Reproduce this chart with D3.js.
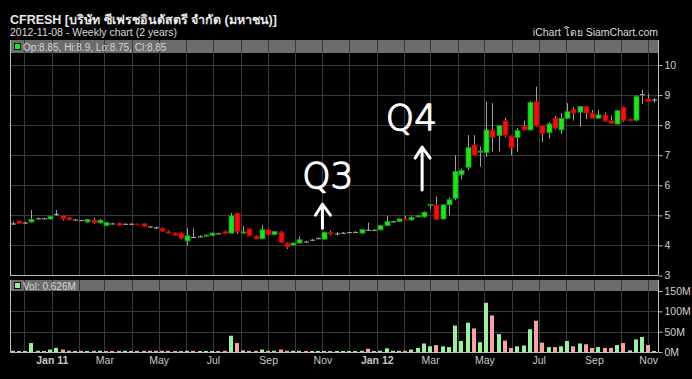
<!DOCTYPE html>
<html>
<head>
<meta charset="utf-8">
<script src="https://cdn.jsdelivr.net/npm/d3@7"></script>
<style>
  body { margin: 0; background: #000; }
  text { font-family: "Liberation Sans", "Noto Sans", sans-serif; }
</style>
</head>
<body>
<div id="chart"></div>
<script>
// weekly candles, Thursdays 2010-11-18 .. 2012-11-08
const firstWeek = "2010-11-18";
const lastWeek = "2012-11-08";

const open = [
  4.73, 4.81, 4.76, 4.78, 4.90, 4.90, 4.88, 5.05, 5.00, 4.92,
  4.86, 4.84, 4.78, 4.85, 4.75, 4.66, 4.73, 4.74, 4.72, 4.72,
  4.71, 4.72, 4.63, 4.60, 4.57, 4.46, 4.41, 4.41, 4.15, 4.28,
  4.30, 4.32, 4.34, 4.40, 4.46, 4.41, 5.07, 4.41, 4.55, 4.31,
  4.22, 4.52, 4.36, 4.44, 4.08, 4.01, 4.08, 4.13, 4.19, 4.24,
  4.21, 4.44, 4.40, 4.42, 4.44, 4.45, 4.41, 4.52, 4.52, 4.52,
  4.66, 4.80, 4.80, 4.88, 4.85, 4.95, 4.95, 5.33, 5.35, 4.88,
  5.35, 5.57, 6.35, 6.60, 7.34, 7.10, 7.09, 7.84, 7.65, 8.14,
  7.64, 7.59, 7.97, 7.84, 8.78, 7.98, 7.75, 8.23, 7.84, 8.23,
  8.53, 8.43, 8.62, 8.40, 8.23, 8.34, 8.15, 8.04, 8.59, 8.20,
  8.17, 9.03, 8.87, 8.85
];
const high = [
  4.80, 4.83, 4.78, 5.18, 4.93, 4.92, 4.98, 5.18, 5.02, 4.95,
  4.88, 4.86, 4.88, 4.92, 4.87, 4.78, 4.75, 4.76, 4.74, 4.74,
  4.73, 4.74, 4.65, 4.62, 4.60, 4.50, 4.43, 4.43, 4.57, 4.57,
  4.34, 4.36, 4.43, 4.42, 4.50, 5.08, 5.09, 4.65, 4.57, 4.33,
  4.68, 4.55, 4.48, 4.48, 4.10, 4.10, 4.30, 4.16, 4.22, 4.27,
  4.46, 4.50, 4.45, 4.45, 4.46, 4.47, 4.54, 4.76, 4.54, 4.68,
  4.98, 4.82, 4.90, 4.98, 5.00, 5.00, 5.13, 5.37, 5.62, 5.36,
  5.60, 7.00, 6.55, 7.67, 7.67, 7.29, 8.78, 8.73, 8.00, 8.25,
  7.66, 7.90, 8.15, 8.80, 9.28, 8.00, 8.10, 8.30, 8.40, 8.73,
  8.60, 8.62, 8.65, 8.50, 8.50, 8.42, 8.32, 8.50, 8.62, 8.22,
  9.00, 9.18, 9.05, 8.90
];
const low = [
  4.68, 4.72, 4.72, 4.76, 4.87, 4.88, 4.86, 4.98, 4.83, 4.83,
  4.84, 4.82, 4.76, 4.73, 4.73, 4.64, 4.70, 4.66, 4.70, 4.70,
  4.67, 4.62, 4.58, 4.55, 4.45, 4.40, 4.32, 4.20, 4.00, 4.26,
  4.27, 4.30, 4.32, 4.38, 4.38, 4.40, 4.38, 4.40, 4.30, 4.20,
  4.20, 4.33, 4.34, 4.08, 3.88, 3.99, 4.06, 4.10, 4.16, 4.21,
  4.19, 4.33, 4.33, 4.38, 4.40, 4.43, 4.39, 4.50, 4.50, 4.50,
  4.64, 4.76, 4.78, 4.86, 4.83, 4.93, 4.93, 5.20, 4.84, 4.86,
  5.00, 5.50, 6.20, 6.50, 7.00, 6.62, 6.95, 7.12, 7.12, 7.60,
  7.00, 7.12, 7.84, 7.82, 7.95, 7.43, 7.55, 7.85, 7.70, 8.20,
  8.15, 7.95, 8.20, 8.23, 8.22, 8.10, 8.04, 8.02, 8.10, 8.12,
  8.12, 8.70, 8.78, 8.75
];
const close = [
  4.73, 4.73, 4.76, 4.86, 4.90, 4.90, 4.96, 5.05, 4.89, 4.85,
  4.86, 4.84, 4.86, 4.75, 4.84, 4.76, 4.73, 4.67, 4.72, 4.72,
  4.69, 4.64, 4.63, 4.60, 4.48, 4.41, 4.34, 4.24, 4.32, 4.28,
  4.30, 4.34, 4.41, 4.40, 4.39, 4.98, 4.45, 4.45, 4.32, 4.22,
  4.52, 4.35, 4.46, 4.10, 3.95, 4.08, 4.19, 4.13, 4.19, 4.24,
  4.44, 4.38, 4.40, 4.42, 4.44, 4.45, 4.53, 4.52, 4.52, 4.66,
  4.80, 4.80, 4.88, 4.87, 4.93, 4.99, 5.10, 5.36, 4.87, 5.35,
  5.52, 6.46, 6.49, 7.25, 7.00, 7.14, 7.84, 7.59, 7.98, 7.67,
  7.25, 7.82, 7.84, 8.75, 7.97, 7.73, 8.04, 7.90, 8.23, 8.45,
  8.40, 8.62, 8.40, 8.23, 8.34, 8.14, 8.06, 8.48, 8.15, 8.15,
  8.95, 9.03, 8.78, 8.85
];
// millions of shares
const volume = [
  3, 2, 0.5, 22, 3, 0.5, 6, 10, 6, 3,
  0.5, 3, 0.5, 3, 3, 0.5, 0.5, 3, 3, 0.5,
  3, 3, 3, 3, 3, 3, 0.5, 0.5, 3, 3,
  0.3, 0.3, 1, 0.3, 3, 40, 22, 4, 3, 3,
  6, 3, 3, 6, 3, 3, 3, 0.3, 0.3, 0.3,
  0.5, 0.3, 0.3, 0.3, 0.3, 0.3, 3, 8, 0.3, 3,
  9, 3, 3, 3, 6, 10, 21, 14, 17, 14,
  12, 65, 27, 72, 58, 24, 121, 90, 44, 28,
  10, 14, 16, 56, 77, 23, 12, 12, 14, 27,
  14, 21, 19, 10, 12, 10, 10, 17, 22, 4,
  31, 37, 17, 0.626
];

const priceTicks = [3, 4, 5, 6, 7, 8, 9, 10];
const volumeTicks = [0, 50, 100, 150];
const monthTicks = ["2011-01-01", "2011-03-01", "2011-05-01", "2011-07-01", "2011-09-01", "2011-11-01",
                    "2012-01-01", "2012-03-01", "2012-05-01", "2012-07-01", "2012-09-01", "2012-11-01"];

const title = "CFRESH [บริษัท ซีเฟรชอินดัสตรี จำกัด (มหาชน)]";
const subtitle = "2012-11-08 - Weekly chart (2 years)";
const credit = "iChart โดย SiamChart.com";

const notes = [
  { text: "Q3", date: "2011-11-07", price: 5.91, arrowDate: "2011-11-01", from: 4.57, to: 5.37 },
  { text: "Q4", date: "2012-02-09", price: 7.84, arrowDate: "2012-02-21", from: 5.84, to: 7.27 }
];

const W = 692, H = 379;
const left = 10, right = 658;
const priceTop = 40, priceBottom = 275.5;
const volTop = 280, volBottom = 352;

const parse = d3.timeParse("%Y-%m-%d");
const weeks = d3.timeThursday.range(parse(firstWeek), d3.timeDay.offset(parse(lastWeek), 1));
const candles = weeks.map((d, i) => ({
  date: d, o: open[i], h: high[i], l: low[i], c: close[i], v: volume[i],
  prev: i ? close[i - 1] : open[i]
}));

const svg = d3.select("#chart").append("svg")
  .attr("width", W).attr("height", H)
  .style("display", "block")
  .style("background", "#000");

const x = d3.scaleTime()
  .domain([parse("2010-11-15"), parse("2012-11-12")])
  .range([left, right]);
const y = d3.scaleLinear().domain([3, 10]).range([priceBottom, 65]);
const yv = d3.scaleLinear().domain([0, 150]).range([volBottom, 291]);

// header texts
svg.append("text").attr("x", 10).attr("y", 24)
  .style("font-size", "12.5px").style("font-weight", "bold").attr("fill", "#e8e8e8")
  .text(title);
svg.append("text").attr("x", 10).attr("y", 35.5)
  .style("font-size", "10.5px").attr("fill", "#dcdcdc")
  .text(subtitle);
svg.append("text").attr("x", right).attr("y", 35.5).attr("text-anchor", "end")
  .style("font-size", "10.5px").attr("fill", "#dcdcdc")
  .text(credit);

// panel header bars
svg.append("rect").attr("x", left).attr("y", priceTop).attr("width", right - left).attr("height", 13)
  .attr("fill", "#6c6c6c");
svg.append("rect").attr("x", left).attr("y", volTop).attr("width", right - left).attr("height", 11)
  .attr("fill", "#6c6c6c");

// grids
const months = d3.timeMonth.range(x.domain()[0], x.domain()[1]);
const grid = svg.append("g");
grid.selectAll("line.v").data(months).join("line")
  .attr("x1", d => Math.round(x(d)) + 0.5).attr("x2", d => Math.round(x(d)) + 0.5)
  .attr("y1", priceTop).attr("y2", priceBottom)
  .attr("stroke", "#3a3a3a");
grid.selectAll("line.vv").data(months).join("line")
  .attr("x1", d => Math.round(x(d)) + 0.5).attr("x2", d => Math.round(x(d)) + 0.5)
  .attr("y1", volTop).attr("y2", volBottom)
  .attr("stroke", "#3a3a3a");
grid.selectAll("line.h").data(priceTicks.slice(1)).join("line")
  .attr("x1", left).attr("x2", right)
  .attr("y1", d => Math.round(y(d)) + 0.5).attr("y2", d => Math.round(y(d)) + 0.5)
  .attr("stroke", "#3a3a3a");
grid.selectAll("line.hv").data(volumeTicks.slice(1, 3)).join("line")
  .attr("x1", left).attr("x2", right)
  .attr("y1", d => Math.round(yv(d)) + 0.5).attr("y2", d => Math.round(yv(d)) + 0.5)
  .attr("stroke", "#3a3a3a");

// legends in header bars
svg.append("rect").attr("x", 14.5).attr("y", 43.5).attr("width", 6).attr("height", 6)
  .attr("fill", "#22e022").attr("stroke", "#111");
svg.append("text").attr("x", 23).attr("y", 50.5)
  .style("font-size", "10px").attr("fill", "#d6d6d6")
  .text(`Op:${open[open.length - 1]}, Hi:${high[high.length - 1]}, Lo:${low[low.length - 1]}, Cl:${close[close.length - 1]}`);
svg.append("rect").attr("x", 14.5).attr("y", 282.5).attr("width", 6).attr("height", 6)
  .attr("fill", "#9cef9c").attr("stroke", "#111");
svg.append("text").attr("x", 23).attr("y", 289.5)
  .style("font-size", "10px").attr("fill", "#d6d6d6")
  .text(`Vol: ${volume[volume.length - 1]}M`);

// frame lines
const frame = svg.append("g").attr("stroke", "#bdbdbd");
frame.append("line").attr("x1", left + 0.5).attr("x2", left + 0.5).attr("y1", priceTop).attr("y2", priceBottom);
frame.append("line").attr("x1", left + 0.5).attr("x2", left + 0.5).attr("y1", volTop).attr("y2", volBottom);
frame.append("line").attr("x1", left).attr("x2", right).attr("y1", priceBottom).attr("y2", priceBottom);
frame.append("line").attr("x1", left).attr("x2", right).attr("y1", volBottom + 0.5).attr("y2", volBottom + 0.5);

// right axes
const styleAxis = g => {
  g.select(".domain").attr("stroke", "#bdbdbd");
  g.selectAll(".tick line").attr("stroke", "#bdbdbd");
  g.selectAll(".tick text").attr("fill", "#cfcfcf").style("font-size", "10.5px")
    .style("font-family", "'Liberation Sans', sans-serif");
};
svg.append("g").attr("transform", `translate(${right + 0.5},0)`)
  .call(d3.axisRight(y).tickValues(priceTicks).tickFormat(d3.format("d")).tickSize(4).tickPadding(2).tickSizeOuter(0))
  .call(g => g.select(".domain").attr("d", `M0,${priceTop}V${priceBottom}`))
  .call(styleAxis);
svg.append("g").attr("transform", `translate(${right + 0.5},0)`)
  .call(d3.axisRight(yv).tickValues(volumeTicks).tickFormat(d => d + "M").tickSize(4).tickPadding(2).tickSizeOuter(0))
  .call(g => g.select(".domain").attr("d", `M0,${volTop}V${volBottom}`))
  .call(styleAxis);

// bottom axis
const fmt = d => d.getMonth() === 0 ? d3.timeFormat("%b %y")(d) : d3.timeFormat("%b")(d);
svg.append("g").attr("transform", `translate(0,${volBottom})`)
  .call(d3.axisBottom(x).tickValues(monthTicks.map(parse)).tickFormat(fmt).tickSize(0).tickPadding(5))
  .call(g => g.select(".domain").remove())
  .call(g => g.selectAll(".tick text")
    .attr("fill", "#c8c8c8").style("font-size", "10.5px")
    .style("font-family", "'Liberation Sans', sans-serif")
    .style("font-weight", d => d.getMonth() === 0 ? "bold" : "normal"));

// volume bars
const volColor = d => d.c > d.prev ? "#9cef9c" : d.c < d.prev ? "#f4a4a4" : "#cccccc";
svg.append("g").selectAll("rect").data(candles).join("rect")
  .attr("x", d => Math.round(x(d.date)) - 2)
  .attr("width", 4)
  .attr("y", d => Math.min(yv(d.v), volBottom - 1))
  .attr("height", d => Math.max(1, volBottom - yv(d.v)))
  .attr("fill", volColor);

// candles
const cg = svg.append("g").selectAll("g").data(candles).join("g")
  .attr("transform", d => `translate(${Math.round(x(d.date)) + 0.5},0)`);
cg.append("line")
  .attr("y1", d => y(d.h)).attr("y2", d => y(d.l))
  .attr("stroke", "#a0a0a0");
cg.append("rect")
  .attr("x", -2.5).attr("width", 5)
  .attr("y", d => y(Math.max(d.o, d.c)))
  .attr("height", d => Math.max(1, Math.abs(y(d.o) - y(d.c))))
  .attr("fill", d => d.c > d.o ? "#22e022" : d.c < d.o ? "#f01010" : "#b0b0b0")
  .attr("stroke", d => d.c > d.o ? "#149a14" : d.c < d.o ? "#a00000" : "#b0b0b0")
  .attr("stroke-width", d => d.c === d.o ? 0 : 0.8);

// hand-drawn notes
const ng = svg.append("g").selectAll("g").data(notes).join("g");
ng.append("text")
  .attr("x", d => x(parse(d.date))).attr("y", d => y(d.price))
  .attr("text-anchor", "middle")
  .style("font-family", "'DejaVu Sans', sans-serif")
  .style("font-size", "36px")
  .style("font-weight", "200")
  .attr("fill", "#fff")
  .attr("stroke", "#fff")
  .attr("stroke-width", 1.3)
  .attr("stroke-linejoin", "round")
  .text(d => d.text);
ng.append("path")
  .attr("d", d => {
    const ax = x(parse(d.arrowDate)), y0 = y(d.from), y1 = y(d.to);
    return `M${ax},${y0}L${ax},${y1}M${ax - 7},${y1 + 11}L${ax},${y1}L${ax + 8},${y1 + 11}`;
  })
  .attr("fill", "none").attr("stroke", "#fff").attr("stroke-width", 3)
  .attr("stroke-linecap", "round").attr("stroke-linejoin", "round");
</script>
</body>
</html>
